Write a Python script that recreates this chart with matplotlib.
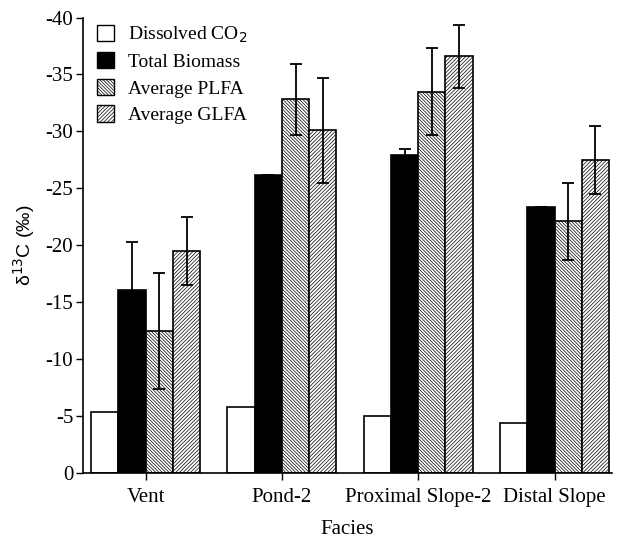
import numpy as np
import matplotlib
matplotlib.use('Agg')
import matplotlib.pyplot as plt
from matplotlib.patches import Patch

# data
facies = ['Vent', 'Pond-2', 'Proximal Slope-2', 'Distal Slope']
series = ['Dissolved CO$_2$', 'Total Biomass', 'Average PLFA', 'Average GLFA']
dissolved_co2 = [-5.4, -5.8, -5.0, -4.4]
total_biomass = [-16.1, -26.2, -27.9, -23.4]
avg_plfa = [-12.5, -32.8, -33.5, -22.1]
avg_glfa = [-19.5, -30.1, -36.6, -27.5]
biomass_err = [4.2, 0.0, 0.55, 0.0]
plfa_err = [5.1, 3.1, 3.8, 3.4]
glfa_err = [3.0, 4.6, 2.75, 3.0]

plt.rcParams['font.family'] = ['Liberation Serif', 'DejaVu Serif']
plt.rcParams['hatch.linewidth'] = 0.5

fig = plt.figure(figsize=(6.17, 5.47), dpi=100)
ax = fig.add_axes([0.1345, 0.1353, 0.857, 0.8327])

x = np.arange(len(facies))
w = 0.2
values = [dissolved_co2, total_biomass, avg_plfa, avg_glfa]
errs = [None, biomass_err, plfa_err, glfa_err]
faces = ['white', 'black', 'white', 'white']
hatches = [None, None, '\\' * 10, '/' * 9]

handles = []
for i, (vals, err) in enumerate(zip(values, errs)):
    pos = x + (i - 1.5) * w
    ax.bar(pos, vals, w, color=faces[i], edgecolor='black', linewidth=1.2,
           hatch=hatches[i], zorder=2)
    if err is not None:
        ax.errorbar(pos, vals, yerr=err, fmt='none', ecolor='black',
                    elinewidth=1.3, capsize=4, capthick=1.3, zorder=3)
    handles.append(Patch(facecolor=faces[i], edgecolor='black', linewidth=1.0,
                         hatch=hatches[i], label=series[i]))

ax.set_xlim(-0.46, 3.42)
ax.set_ylim(0, -40)
ax.set_yticks(np.arange(0, -41, -5))
ax.set_yticklabels(['0', '-5', '-10', '-15', '-20', '-25', '-30', '-35', '-40'])
ax.set_xticks(x)
ax.set_xticklabels(facies)
ax.tick_params(axis='both', direction='out', length=5, width=1.0, labelsize=15)
ax.tick_params(axis='x', pad=6)
ax.tick_params(axis='y', pad=2)
for s in ['top', 'right']:
    ax.spines[s].set_visible(False)
for s in ['left', 'bottom']:
    ax.spines[s].set_linewidth(1.2)

ax.set_xlabel('Facies', fontsize=15, labelpad=9)
ax.set_ylabel('δ$^{13}$C (‰)', fontsize=14, family='Liberation Sans', labelpad=6)

ax.legend(handles=handles, loc='upper left', bbox_to_anchor=(0.0, 1.015),
          frameon=False, fontsize=14, handlelength=0.9, handleheight=0.9,
          handletextpad=0.7, labelspacing=0.4, borderaxespad=0.3)

fig.savefig('out.png', dpi=100)
